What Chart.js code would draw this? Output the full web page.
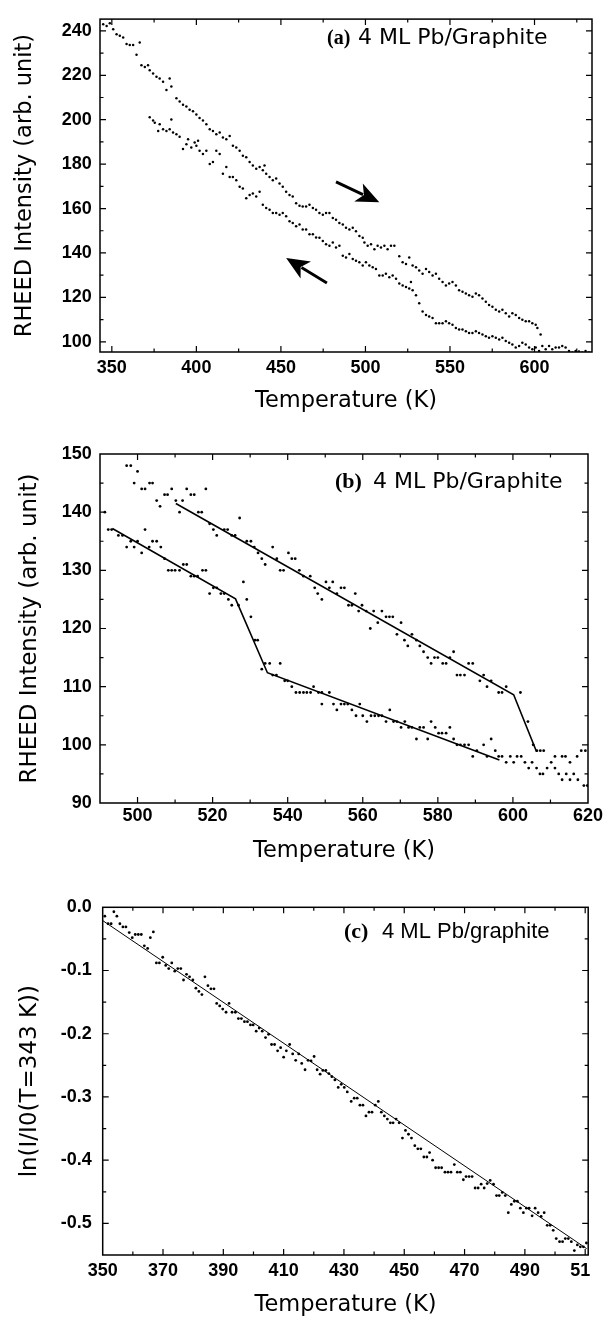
<!DOCTYPE html>
<html>
<head>
<meta charset="utf-8">
<title>RHEED intensity vs temperature, 4 ML Pb/Graphite</title>
<script src="https://cdn.jsdelivr.net/npm/chart.js@4.4.1/dist/chart.umd.min.js"></script>
<style>
  html, body { margin: 0; padding: 0; background: #fff; overflow: hidden; }
  .panel { position: absolute; left: 0; }
  #wrapA { top: 0; }
  #wrapB { top: 420px; }
  #wrapC { top: 870px; }
</style>
</head>
<body>
<div class="panel" id="wrapA"><canvas id="chartA" width="606" height="420"></canvas></div>
<div class="panel" id="wrapB"><canvas id="chartB" width="606" height="450"></canvas></div>
<div class="panel" id="wrapC"><canvas id="chartC" width="606" height="452"></canvas></div>
<script>
// ---- panel (a): heating and cooling runs ----
const tempHeatA = [344.9, 346.9, 348.8, 350.8, 352.8, 354.7, 356.7, 358.7, 360.6, 362.6, 364.6, 366.5, 367.5, 369.5, 371.4,
    372.4, 374.4, 376.4, 378.3, 380.3, 382.3, 384.2, 385.2, 388.2, 390.1, 392.1, 394.1, 396.0, 398.0, 400.0, 401.9,
    403.9, 405.9, 407.9, 409.8, 411.8, 413.8, 415.7, 417.7, 419.7, 421.6, 423.6, 425.6, 427.5, 429.5, 431.5, 433.4,
    435.4, 437.4, 439.3, 440.3, 441.3, 443.3, 445.2, 447.2, 449.2, 451.1, 453.1, 455.1, 457.0, 459.0, 461.0, 462.9,
    464.9, 466.9, 468.9, 470.8, 472.8, 474.8, 476.7, 478.7, 480.7, 482.6, 484.6, 486.6, 488.5, 490.5, 492.5, 494.4,
    496.4, 498.4, 499.4, 501.3, 503.3, 505.3, 507.2, 509.2, 511.2, 513.1, 515.1, 517.1, 520.0, 522.0, 524.0, 525.9,
    527.9, 529.9, 531.8, 533.8, 535.8, 537.7, 539.7, 541.7, 543.6, 545.6, 547.6, 549.5, 551.5, 553.5, 555.4, 557.4,
    559.4, 561.3, 563.3, 565.3, 567.2, 569.2, 571.2, 573.1, 575.1, 577.1, 579.1, 581.0, 583.0, 585.0, 586.9, 588.9,
    590.9, 592.8, 594.8, 596.8, 598.7, 600.7, 601.7, 603.6];
const rheedHeatA = [243.0, 242.2, 243.4, 240.7, 238.5, 237.8, 237.0, 234.1, 233.6, 233.6, 229.2, 234.8, 224.5, 223.7, 224.5,
    222.3, 220.8, 219.3, 218.6, 217.1, 213.4, 218.6, 214.9, 209.7, 208.2, 206.7, 206.0, 204.5, 203.8, 202.3, 200.8,
    199.6, 197.9, 195.7, 194.9, 193.4, 194.2, 192.0, 191.2, 192.7, 188.3, 187.5, 186.0, 183.8, 183.1, 180.9, 179.4,
    177.9, 178.7, 177.2, 179.4, 175.7, 174.2, 172.7, 173.5, 171.3, 169.8, 167.6, 166.1, 165.4, 162.4, 161.2, 160.9,
    160.9, 161.7, 160.2, 159.4, 158.0, 157.2, 158.0, 158.0, 155.7, 155.0, 153.5, 152.8, 151.3, 150.6, 151.3, 149.8,
    147.6, 146.9, 144.7, 143.2, 143.9, 141.7, 143.2, 142.4, 143.2, 141.7, 143.2, 143.2, 138.5, 135.8, 135.0, 138.0,
    134.3, 133.6, 132.1, 130.6, 132.8, 131.4, 129.9, 130.6, 128.4, 126.9, 125.4, 126.2, 126.9, 125.4, 123.2, 122.5,
    121.7, 121.0, 120.3, 121.7, 121.0, 119.5, 118.0, 116.6, 115.8, 114.4, 113.6, 114.4, 112.9, 111.4, 112.9, 112.1,
    110.7, 109.9, 109.2, 109.2, 108.4, 107.7, 106.2, 103.3];
const tempCoolA = [372.4, 374.4, 375.4, 377.4, 378.3, 380.3, 382.3, 384.2, 385.2, 386.2, 388.2, 390.1, 392.1, 394.1, 395.1,
    397.0, 399.0, 400.0, 401.0, 401.9, 403.9, 405.9, 407.9, 409.8, 411.8, 413.8, 415.7, 417.7, 419.7, 421.6, 423.6,
    425.6, 427.5, 429.5, 431.5, 433.4, 435.4, 437.4, 439.3, 441.3, 443.3, 445.2, 447.2, 449.2, 451.1, 453.1, 455.1,
    457.0, 459.0, 461.0, 462.9, 464.9, 466.9, 468.9, 470.8, 472.8, 474.8, 476.7, 478.7, 480.7, 482.6, 484.6, 486.6,
    488.5, 490.5, 492.5, 494.4, 496.4, 498.4, 500.3, 502.3, 504.3, 506.2, 508.2, 510.2, 512.1, 514.1, 516.1, 518.1,
    520.0, 522.0, 524.0, 525.9, 526.9, 527.9, 529.9, 531.8, 533.8, 535.8, 537.7, 539.7, 541.7, 543.6, 545.6, 547.6,
    549.5, 551.5, 553.5, 555.4, 557.4, 559.4, 561.3, 563.3, 565.3, 567.2, 569.2, 571.2, 573.1, 575.1, 577.1, 579.1,
    581.0, 583.0, 585.0, 586.9, 588.9, 590.9, 592.8, 594.8, 596.8, 598.7, 600.7, 602.7, 604.6, 606.6, 608.6, 610.5,
    612.5, 614.5, 616.4, 618.4, 620.4, 622.3, 624.3, 626.3, 628.2, 630.2, 632.2];
const rheedCoolA = [201.1, 199.6, 198.6, 194.9, 197.9, 195.7, 194.9, 195.7, 200.1, 194.2, 193.4, 192.3, 186.8, 189.0, 191.2,
    187.5, 189.7, 188.3, 190.5, 186.0, 184.6, 186.0, 180.1, 180.9, 186.0, 184.6, 175.7, 178.7, 174.2, 174.2, 172.7,
    169.8, 169.0, 164.6, 166.1, 166.8, 165.4, 167.6, 161.7, 160.2, 159.4, 158.0, 158.0, 157.2, 158.0, 156.5, 154.3,
    153.5, 152.0, 152.8, 150.6, 150.6, 148.4, 148.4, 147.0, 146.9, 145.4, 143.9, 143.2, 144.7, 142.4, 143.2, 138.7,
    138.0, 139.5, 137.3, 136.5, 135.8, 134.3, 135.8, 134.3, 133.6, 132.8, 129.9, 129.9, 130.6, 129.1, 129.9, 128.4,
    126.2, 125.4, 124.7, 124.0, 126.9, 123.2, 121.0, 117.3, 113.6, 112.1, 111.4, 110.7, 108.4, 108.4, 108.4, 109.2,
    108.4, 107.7, 106.2, 105.5, 105.5, 104.7, 104.0, 104.0, 104.7, 104.0, 103.3, 102.5, 101.8, 102.5, 101.8, 101.0,
    101.8, 100.3, 99.6, 98.8, 97.4, 98.1, 99.6, 98.8, 97.4, 96.6, 97.4, 95.9, 98.1, 96.6, 98.1, 96.6,
    97.4, 97.4, 98.1, 97.4, 95.9, 95.2, 95.9, 95.6, 95.2, 95.9, 95.2];
// arrows: heating (down-right) then cooling (up-left)
const arrowTailT = [482.6, 477.2];
const arrowTailI = [172.0, 126.5];
const arrowHeadT = [508.2, 453.1];
const arrowHeadI = [162.8, 137.7];
const xTicksA = [350, 400, 450, 500, 550, 600];
const yTicksA = [100, 120, 140, 160, 180, 200, 220, 240];

// ---- panel (b): close-up with piecewise linear fits ----
const tempB = [491.3, 492.2, 493.1, 494.9, 496.0, 497.1, 497.1, 498.2, 498.2, 499.1, 499.1, 500.0, 500.0, 501.1, 502.0,
    501.1, 502.0, 503.1, 503.2, 504.0, 504.0, 505.1, 505.1, 506.0, 506.2, 507.2, 508.0, 507.2, 508.2, 509.1, 510.0,
    511.2, 509.1, 510.2, 511.2, 512.0, 512.2, 513.1, 513.1, 514.2, 515.1, 514.2, 515.1, 516.0, 516.2, 517.1, 517.3,
    518.2, 518.2, 519.2, 519.2, 520.2, 520.2, 521.1, 521.1, 522.2, 523.1, 523.1, 524.0, 524.2, 525.1, 526.0, 525.1,
    527.2, 526.9, 528.2, 529.1, 530.2, 529.1, 530.2, 531.1, 531.3, 532.0, 532.1, 533.1, 533.1, 534.0, 534.0, 535.2,
    536.0, 536.0, 537.0, 537.1, 538.0, 538.0, 538.9, 539.2, 540.0, 540.2, 541.1, 542.0, 541.1, 542.2, 543.2, 544.2,
    545.1, 546.1, 543.1, 544.2, 546.0, 546.9, 547.2, 548.0, 548.2, 549.1, 551.1, 549.1, 549.1, 550.2, 552.0, 551.1,
    552.2, 553.1, 553.1, 554.2, 555.1, 554.2, 555.1, 556.0, 556.2, 557.1, 558.0, 559.8, 558.9, 560.9, 562.0, 562.9,
    565.1, 564.0, 566.2, 567.1, 568.0, 569.1, 570.2, 571.1, 572.0, 573.1, 574.3, 575.2, 576.2, 577.3, 578.2, 579.1,
    580.0, 581.3, 582.2, 583.2, 584.2, 585.1, 586.0, 587.1, 588.2, 589.3, 591.2, 592.2, 593.1, 594.2, 596.2, 597.1,
    598.2, 602.0, 604.0, 605.4, 606.4, 607.3, 608.2, 557.1, 558.2, 559.2, 560.0, 561.1, 562.2, 563.2, 564.2, 565.1,
    566.2, 567.2, 568.2, 569.1, 570.2, 571.2, 572.2, 573.1, 574.3, 575.2, 576.2, 577.3, 578.2, 579.3, 580.2, 581.1,
    582.2, 583.2, 584.2, 585.1, 586.0, 587.1, 588.2, 589.3, 590.4, 592.2, 593.1, 594.2, 595.3, 596.2, 597.1, 598.2,
    599.3, 600.2, 601.1, 602.2, 603.2, 604.2, 605.1, 606.3, 607.2, 608.0, 609.1, 610.2, 611.2, 613.1, 614.0, 611.2,
    612.2, 613.1, 614.2, 615.2, 615.2, 616.2, 617.1, 617.3, 618.2, 619.3, 618.9, 619.8];
const rheedB = [140, 137, 137, 136, 136, 134, 148, 148, 135, 145, 134, 147, 135, 144, 144,
    133, 137, 134, 145, 145, 135, 135, 142, 141, 134, 143, 143, 132, 130, 130, 130,
    130, 144, 142, 140, 142, 131, 131, 144, 143, 143, 129, 129, 129, 140, 140, 130,
    130, 144, 138, 126, 137, 127, 127, 136, 126, 126, 137, 137, 125, 136, 136, 124,
    139, 124, 128, 135, 135, 125, 122, 134, 118, 118, 133, 132, 113, 131, 114, 114,
    134, 112, 112, 132, 114, 130, 130, 111, 111, 133, 132, 132, 110, 109, 109, 109,
    109, 109, 130, 129, 129, 110, 127, 126, 109, 109, 109, 125, 107, 128, 128, 127,
    107, 126, 106, 127, 127, 107, 107, 107, 124, 124, 126, 124, 123, 123, 120, 123,
    123, 121, 122, 122, 122, 119, 121, 118, 117, 119, 118, 117, 116, 115, 114, 115,
    115, 114, 114, 115, 116, 112, 112, 112, 114, 114, 111, 112, 110, 111, 109, 109,
    110, 109, 104, 100, 99, 99, 99, 106, 105, 107, 105, 104, 105, 105, 105, 105,
    104, 106, 104, 104, 103, 104, 103, 103, 101, 103, 103, 101, 104, 103, 102, 102,
    102, 103, 101, 100, 100, 100, 100, 98, 99, 100, 98, 101, 99, 98, 98, 97,
    98, 97, 98, 98, 97, 96, 97, 96, 95, 95, 96, 97, 98, 98, 98, 96,
    95, 94, 95, 97, 94, 95, 98, 94, 99, 99, 93, 93];
const fitUpperT = [510.2, 600.2, 606.3];
const fitUpperI = [141.5, 108.6, 98.8];
const fitLowerT = [493.3, 526.1, 534.6, 596.4];
const fitLowerI = [137.2, 125.1, 112.4, 97.4];
const xTicksB = [500, 520, 540, 560, 580, 600, 620];
const yTicksB = [90, 100, 110, 120, 130, 140, 150];

// ---- panel (c): log intensity with linear fit ----
const tempC = [350.7, 351.8, 352.8, 353.7, 354.7, 355.7, 356.7, 357.7, 358.8, 359.8, 360.8, 361.8, 362.8, 363.8, 364.9,
    365.8, 366.8, 367.8, 368.8, 369.9, 370.9, 371.9, 372.9, 373.9, 374.9, 375.9, 376.8, 377.8, 378.8, 379.9, 380.9,
    381.9, 382.9, 383.9, 384.9, 385.9, 386.9, 387.8, 388.8, 389.8, 390.9, 391.9, 392.9, 394.0, 395.0, 396.0, 397.0,
    398.0, 399.0, 399.9, 400.9, 401.9, 402.9, 404.0, 405.0, 406.0, 407.0, 408.0, 409.0, 410.0, 410.9, 412.0, 413.0,
    414.0, 415.0, 416.0, 417.1, 418.1, 419.1, 420.1, 421.1, 422.1, 423.0, 424.0, 425.0, 426.0, 427.0, 428.1, 429.1,
    430.1, 431.1, 432.4, 433.4, 434.4, 435.3, 436.3, 437.3, 438.3, 439.3, 440.4, 441.4, 442.4, 443.4, 444.4, 445.4,
    446.3, 447.3, 448.3, 449.4, 450.4, 451.4, 452.4, 453.5, 454.5, 455.5, 456.5, 457.5, 458.4, 459.4, 460.4, 461.4,
    462.4, 463.5, 464.5, 465.5, 466.6, 467.6, 468.6, 469.6, 470.5, 471.5, 472.5, 473.5, 474.5, 475.5, 476.5, 477.5,
    478.5, 479.6, 480.6, 481.5, 482.5, 483.5, 484.5, 485.5, 486.5, 487.5, 488.5, 489.5, 490.5, 491.4, 492.4, 493.4,
    494.4, 495.4, 496.4, 497.4, 498.4, 499.4, 500.4, 501.5, 502.5, 503.4, 504.4, 505.4, 506.4, 507.4, 508.4, 509.4,
    510.4];
const lnC = [-0.014, -0.026, -0.026, -0.007, -0.014, -0.026, -0.031, -0.031, -0.040, -0.048, -0.043, -0.043, -0.043, -0.061, -0.065,
    -0.048, -0.039, -0.088, -0.088, -0.079, -0.092, -0.097, -0.088, -0.101, -0.097, -0.097, -0.115, -0.106, -0.110, -0.115, -0.128,
    -0.133, -0.138, -0.110, -0.124, -0.129, -0.129, -0.152, -0.156, -0.161, -0.166, -0.152, -0.166, -0.166, -0.176, -0.176, -0.181,
    -0.181, -0.186, -0.186, -0.196, -0.191, -0.196, -0.206, -0.201, -0.217, -0.217, -0.227, -0.222, -0.237, -0.227, -0.217, -0.232,
    -0.242, -0.232, -0.247, -0.257, -0.242, -0.243, -0.236, -0.257, -0.264, -0.258, -0.258, -0.263, -0.268, -0.273, -0.285, -0.280,
    -0.285, -0.292, -0.307, -0.302, -0.302, -0.313, -0.313, -0.330, -0.324, -0.324, -0.313, -0.307, -0.324, -0.330, -0.335, -0.341,
    -0.341, -0.335, -0.341, -0.365, -0.353, -0.359, -0.365, -0.377, -0.382, -0.382, -0.395, -0.395, -0.388, -0.400, -0.412, -0.412,
    -0.412, -0.419, -0.419, -0.419, -0.407, -0.419, -0.419, -0.431, -0.426, -0.426, -0.426, -0.444, -0.444, -0.438, -0.444, -0.437,
    -0.432, -0.438, -0.456, -0.456, -0.451, -0.456, -0.483, -0.470, -0.465, -0.465, -0.476, -0.483, -0.476, -0.476, -0.488, -0.476,
    -0.483, -0.489, -0.483, -0.503, -0.503, -0.511, -0.524, -0.529, -0.529, -0.524, -0.524, -0.529, -0.543, -0.534, -0.537, -0.537,
    -0.531];
const fitT = [350, 510.5];
const fitLn = [-0.021, -0.540];
const xTicksC = [350, 370, 390, 410, 430, 450, 470, 490, 510];
const yTicksC = [-0.5, -0.4, -0.3, -0.2, -0.1, 0];

const tickFont = { family: "'Liberation Sans', Arial, sans-serif", size: 18, weight: 'bold' };
const titleFont = { family: "'DejaVu Sans', sans-serif", size: 22.5, weight: 'normal' };

function toPoints(xs, ys) {
    return xs.map((x, i) => ({ x: x, y: ys[i] }));
}

// box with inward major and minor ticks on all four sides
const frameTicks = {
    id: 'frameTicks',
    afterDraw(chart, args, opts) {
        const ctx = chart.ctx;
        const a = chart.chartArea;
        const xs = chart.scales.x;
        const ys = chart.scales.y;
        ctx.save();
        ctx.strokeStyle = '#000';
        ctx.lineWidth = 1.2;
        ctx.beginPath();
        const majX = xs.ticks.map(t => t.value);
        const majY = ys.ticks.map(t => t.value);
        const xMark = (v, len) => {
            const p = xs.getPixelForValue(v);
            if (p < a.left + 1 || p > a.right - 1) return;
            ctx.moveTo(p, a.bottom); ctx.lineTo(p, a.bottom - len);
            ctx.moveTo(p, a.top); ctx.lineTo(p, a.top + len);
        };
        const yMark = (v, len) => {
            const p = ys.getPixelForValue(v);
            if (p < a.top + 1 || p > a.bottom - 1) return;
            ctx.moveTo(a.left, p); ctx.lineTo(a.left + len, p);
            ctx.moveTo(a.right, p); ctx.lineTo(a.right - len, p);
        };
        majX.forEach(v => xMark(v, 6));
        majY.forEach(v => yMark(v, 6));
        for (let i = 0; i < majX.length - 1; i++) xMark((majX[i] + majX[i + 1]) / 2, 3.5);
        for (let i = 0; i < majY.length - 1; i++) yMark((majY[i] + majY[i + 1]) / 2, 3.5);
        // half step outside the first/last labelled tick
        xMark(majX[0] - (majX[1] - majX[0]) / 2, 3.5);
        xMark(majX[majX.length - 1] + (majX[1] - majX[0]) / 2, 3.5);
        yMark(majY[0] - (majY[1] - majY[0]) / 2, 3.5);
        yMark(majY[majY.length - 1] + (majY[1] - majY[0]) / 2, 3.5);
        ctx.stroke();
        ctx.lineWidth = 1.5;
        ctx.strokeRect(a.left, a.top, a.right - a.left, a.bottom - a.top);
        ctx.restore();
    }
};

const panelLabel = {
    id: 'panelLabel',
    afterDraw(chart, args, o) {
        const ctx = chart.ctx;
        ctx.save();
        ctx.fillStyle = '#000';
        ctx.textAlign = 'left';
        ctx.textBaseline = 'alphabetic';
        ctx.font = o.tagFont;
        ctx.fillText(o.tag, o.x, o.y);
        ctx.font = o.textFont;
        ctx.fillText(o.text, o.textX, o.y);
        ctx.restore();
    }
};

const arrows = {
    id: 'arrows',
    afterDraw(chart) {
        const ctx = chart.ctx;
        const xs = chart.scales.x;
        const ys = chart.scales.y;
        ctx.save();
        ctx.strokeStyle = '#000';
        ctx.fillStyle = '#000';
        ctx.lineWidth = 2.8;
        for (let i = 0; i < arrowTailT.length; i++) {
            const x0 = xs.getPixelForValue(arrowTailT[i]);
            const y0 = ys.getPixelForValue(arrowTailI[i]);
            const x1 = xs.getPixelForValue(arrowHeadT[i]);
            const y1 = ys.getPixelForValue(arrowHeadI[i]);
            const ang = Math.atan2(y1 - y0, x1 - x0);
            const len = 23, half = 10;
            const bx = x1 - len * Math.cos(ang);
            const by = y1 - len * Math.sin(ang);
            ctx.beginPath();
            ctx.moveTo(x0, y0);
            ctx.lineTo(bx + 5 * Math.cos(ang), by + 5 * Math.sin(ang));
            ctx.stroke();
            ctx.beginPath();
            ctx.moveTo(x1, y1);
            ctx.lineTo(bx + half * Math.sin(ang), by - half * Math.cos(ang));
            ctx.lineTo(bx + 6 * Math.cos(ang), by + 6 * Math.sin(ang));
            ctx.lineTo(bx - half * Math.sin(ang), by + half * Math.cos(ang));
            ctx.closePath();
            ctx.fill();
        }
        ctx.restore();
    }
};

function makeChart(id, cfg) {
    const ctx = document.getElementById(id).getContext('2d');
    return new Chart(ctx, {
        type: 'scatter',
        data: { datasets: cfg.datasets },
        options: {
            responsive: false,
            animation: false,
            events: [],
            layout: { autoPadding: false, padding: cfg.padding },
            plugins: {
                legend: { display: false },
                tooltip: { enabled: false },
                panelLabel: cfg.label
            },
            scales: {
                x: {
                    type: 'linear',
                    min: cfg.xMin,
                    max: cfg.xMax,
                    afterBuildTicks: s => { s.ticks = cfg.xTicks.map(v => ({ value: v })); },
                    afterFit: s => { s.height = cfg.xHeight; },
                    grid: { display: false, drawTicks: false },
                    border: { display: false },
                    ticks: {
                        color: '#000', font: tickFont, padding: cfg.xPad,
                        maxRotation: 0, autoSkip: false,
                        callback: cfg.xLabel || (v => String(v))
                    },
                    title: {
                        display: true, text: 'Temperature (K)', color: '#000',
                        font: titleFont, padding: { top: 0, bottom: cfg.xTitlePad }
                    }
                },
                y: {
                    type: 'linear',
                    min: cfg.yMin,
                    max: cfg.yMax,
                    afterBuildTicks: s => { s.ticks = cfg.yTicks.map(v => ({ value: v })); },
                    afterFit: s => { s.width = cfg.yWidth; },
                    grid: { display: false, drawTicks: false },
                    border: { display: false },
                    ticks: {
                        color: '#000', font: tickFont, padding: cfg.yPad, autoSkip: false,
                        callback: cfg.yLabel || (v => String(v))
                    },
                    title: {
                        display: true, text: cfg.yTitle, color: '#000',
                        font: cfg.yTitleFont || titleFont, padding: { top: cfg.yTitlePad, bottom: 0 }
                    }
                }
            }
        },
        plugins: cfg.plugins
    });
}

const dots = (xs, ys, r) => ({
    data: toPoints(xs, ys),
    pointRadius: r,
    pointBorderWidth: 0,
    pointBackgroundColor: '#000',
    showLine: false
});
const fitLine = (xs, ys, w) => ({
    data: toPoints(xs, ys),
    showLine: true,
    borderColor: '#000',
    borderWidth: w,
    pointRadius: 0,
    tension: 0
});

makeChart('chartA', {
    datasets: [dots(tempHeatA, rheedHeatA, 1.25), dots(tempCoolA, rheedCoolA, 1.25)],
    padding: { left: 0, top: 13, right: 14, bottom: 0 },
    xMin: 343, xMax: 634, yMin: 95.4, yMax: 245.3,
    xTicks: xTicksA, yTicks: yTicksA,
    xHeight: 68, yWidth: 100, xPad: 5.7, yPad: 8.3, xTitlePad: 5.4, yTitlePad: 11.8,
    yTitle: 'RHEED Intensity (arb. unit)',
    label: {
        tag: '(a)', text: '4 ML Pb/Graphite', x: 327, textX: 358, y: 44,
        tagFont: "bold 20px 'Liberation Serif', 'Times New Roman', serif",
        textFont: "22px 'DejaVu Sans', sans-serif"
    },
    plugins: [frameTicks, panelLabel, arrows]
});

makeChart('chartB', {
    datasets: [dots(tempB, rheedB, 1.4), fitLine(fitUpperT, fitUpperI, 1.6), fitLine(fitLowerT, fitLowerI, 1.6)],
    padding: { left: 0, top: 34, right: 18, bottom: 0 },
    xMin: 490, xMax: 620, yMin: 90, yMax: 150,
    xTicks: xTicksB, yTicks: yTicksB,
    xHeight: 67, yWidth: 100, xPad: 2.2, yPad: 8.3, xTitlePad: 5.4, yTitlePad: 15.8,
    yTitle: 'RHEED Intensity (arb. unit)',
    yTitleFont: { family: "'DejaVu Sans', sans-serif", size: 23 },
    label: {
        tag: '(b)', text: '4 ML Pb/Graphite', x: 335, textX: 373, y: 68,
        tagFont: "bold 22px 'Liberation Serif', 'Times New Roman', serif",
        textFont: "22px 'DejaVu Sans', sans-serif"
    },
    plugins: [frameTicks, panelLabel]
});

makeChart('chartC', {
    datasets: [dots(tempC, lnC, 1.4), fitLine(fitT, fitLn, 1)],
    padding: { left: 0, top: 37.3, right: 16, bottom: 0 },
    xMin: 350, xMax: 511, yMin: -0.55, yMax: 0,
    xTicks: xTicksC, yTicks: yTicksC,
    xHeight: 67, yWidth: 102.7, xPad: 5.7, yPad: 11, xTitlePad: 3.4, yTitlePad: 15.8,
    yTitle: 'ln(I/I0(T=343 K))',
    yTitleFont: { family: "'DejaVu Sans', sans-serif", size: 23 },
    // the last label is cut by the figure edge in the original
    xLabel: v => (v === 510 ? '51\u2007' : String(v)),
    yLabel: v => v.toFixed(1),
    label: {
        tag: '(c)', text: '4 ML Pb/graphite', x: 344, textX: 382, y: 68,
        tagFont: "bold 22px 'Liberation Serif', 'Times New Roman', serif",
        textFont: "22px 'Liberation Sans', Arial, sans-serif"
    },
    plugins: [frameTicks, panelLabel]
});
</script>
</body>
</html>
